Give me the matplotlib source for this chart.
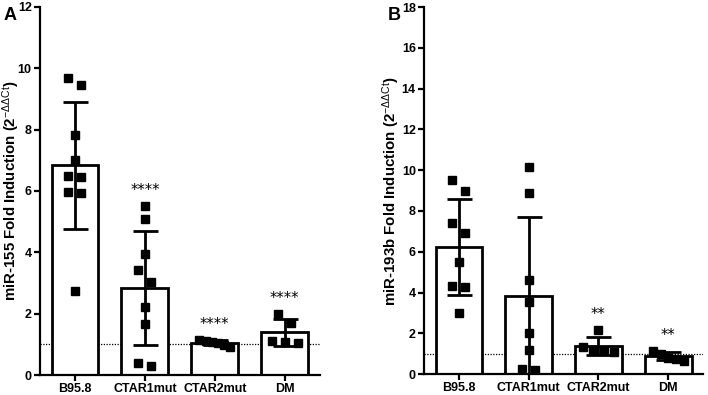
import numpy as np
import matplotlib
matplotlib.use('Agg')
import matplotlib.pyplot as plt

plt.rcParams['font.family'] = ['Liberation Sans', 'DejaVu Sans']
plt.rcParams['mathtext.fontset'] = 'custom'
plt.rcParams['mathtext.rm'] = 'Liberation Sans'
plt.rcParams['mathtext.it'] = 'Liberation Sans'

groups = ['B95.8', 'CTAR1mut', 'CTAR2mut', 'DM']

# panel A: miR-155
mir155 = [
    [9.67, 9.46, 7.83, 7.0, 6.5, 6.45, 5.96, 5.92, 2.75],
    [5.51, 5.09, 3.93, 3.41, 3.02, 2.21, 1.67, 0.40, 0.29],
    [1.10, 0.92, 1.08, 1.15, 1.05, 0.98],
    [1.99, 1.71, 1.12, 1.03, 1.08],
]
stars155 = ['', '****', '****', '****']

# panel B: miR-193b
mir193b = [
    [9.50, 8.97, 7.43, 6.94, 5.50, 4.31, 4.28, 3.00],
    [10.16, 8.89, 4.60, 3.54, 2.03, 1.18, 0.23, 0.20],
    [2.16, 1.34, 1.18, 1.13, 1.06],
    [1.14, 0.98, 0.80, 0.75, 0.65],
]
stars193b = ['', '', '**', '**']


def swarm(vals, ythr, step=0.186, maxspan=0.44):
    vals = np.asarray(vals)
    order = np.argsort(vals)[::-1]
    offs = np.zeros(len(vals))
    clusters = []
    cur = [order[0]]
    for i in order[1:]:
        if vals[cur[-1]] - vals[i] < ythr:
            cur.append(i)
        else:
            clusters.append(cur)
            cur = [i]
    clusters.append(cur)
    for c in clusters:
        n = len(c)
        if n > 1:
            s = min(step, maxspan / (n - 1))
            for k, i in enumerate(c):
                offs[i] = (k - (n - 1) / 2) * s
    return offs


def panel(ax, data, stars, ymax, ylabel, letter, labx):
    x = np.arange(len(groups))
    means = [np.mean(d) for d in data]
    sds = [np.std(d, ddof=1) for d in data]
    ax.axhline(1, color='black', ls=(0, (1, 1.2)), lw=0.9, zorder=1)
    ax.bar(x, means, width=0.67, color='white', edgecolor='black', lw=2, zorder=2)
    ax.errorbar(x, means, yerr=sds, fmt='none', ecolor='black', elinewidth=2,
                capsize=9, capthick=2, zorder=3)
    for i, d in enumerate(data):
        offs = swarm(d, 0.034 * ymax)
        ax.plot(i + offs, d, 's', color='black', ms=6.2, zorder=4, ls='none')
        if stars[i]:
            ax.annotate(stars[i], (i, max(d)), xytext=(0, 11), textcoords='offset points',
                        ha='center', va='center', fontsize=10.5, family='DejaVu Sans')
    ax.set_xlim(-0.5, 3.5)
    ax.set_ylim(0, ymax)
    ax.set_yticks(np.arange(0, ymax + 1, 2))
    ax.set_xticks(x)
    ax.set_xticklabels(groups)
    for s in ['top', 'right']:
        ax.spines[s].set_visible(False)
    for s in ['left', 'bottom']:
        ax.spines[s].set_linewidth(1.6)
    ax.tick_params(width=1.6, length=4, labelsize=9, pad=2)
    for t in ax.get_xticklabels() + ax.get_yticklabels():
        t.set_fontweight('bold')
    ax.set_ylabel(ylabel, fontsize=10.8, fontweight='bold')
    ax.yaxis.set_label_coords(labx, 0.5)
    ax.text(-0.13, 1.0, letter, transform=ax.transAxes, fontsize=13,
            fontweight='bold', va='top', ha='left')


fig = plt.figure(figsize=(7.08, 3.95), dpi=100)
axA = fig.add_axes([0.0565, 0.0506, 0.395, 0.932])
axB = fig.add_axes([0.599, 0.053, 0.394, 0.929])

panel(axA, mir155, stars155, 12, r'miR-155 Fold Induction (2$^{-\Delta\Delta Ct}$)', 'A', -0.066)
panel(axB, mir193b, stars193b, 18, r'miR-193b Fold Induction (2$^{-\Delta\Delta Ct}$)', 'B', -0.08)

fig.savefig('out.png', dpi=100)
